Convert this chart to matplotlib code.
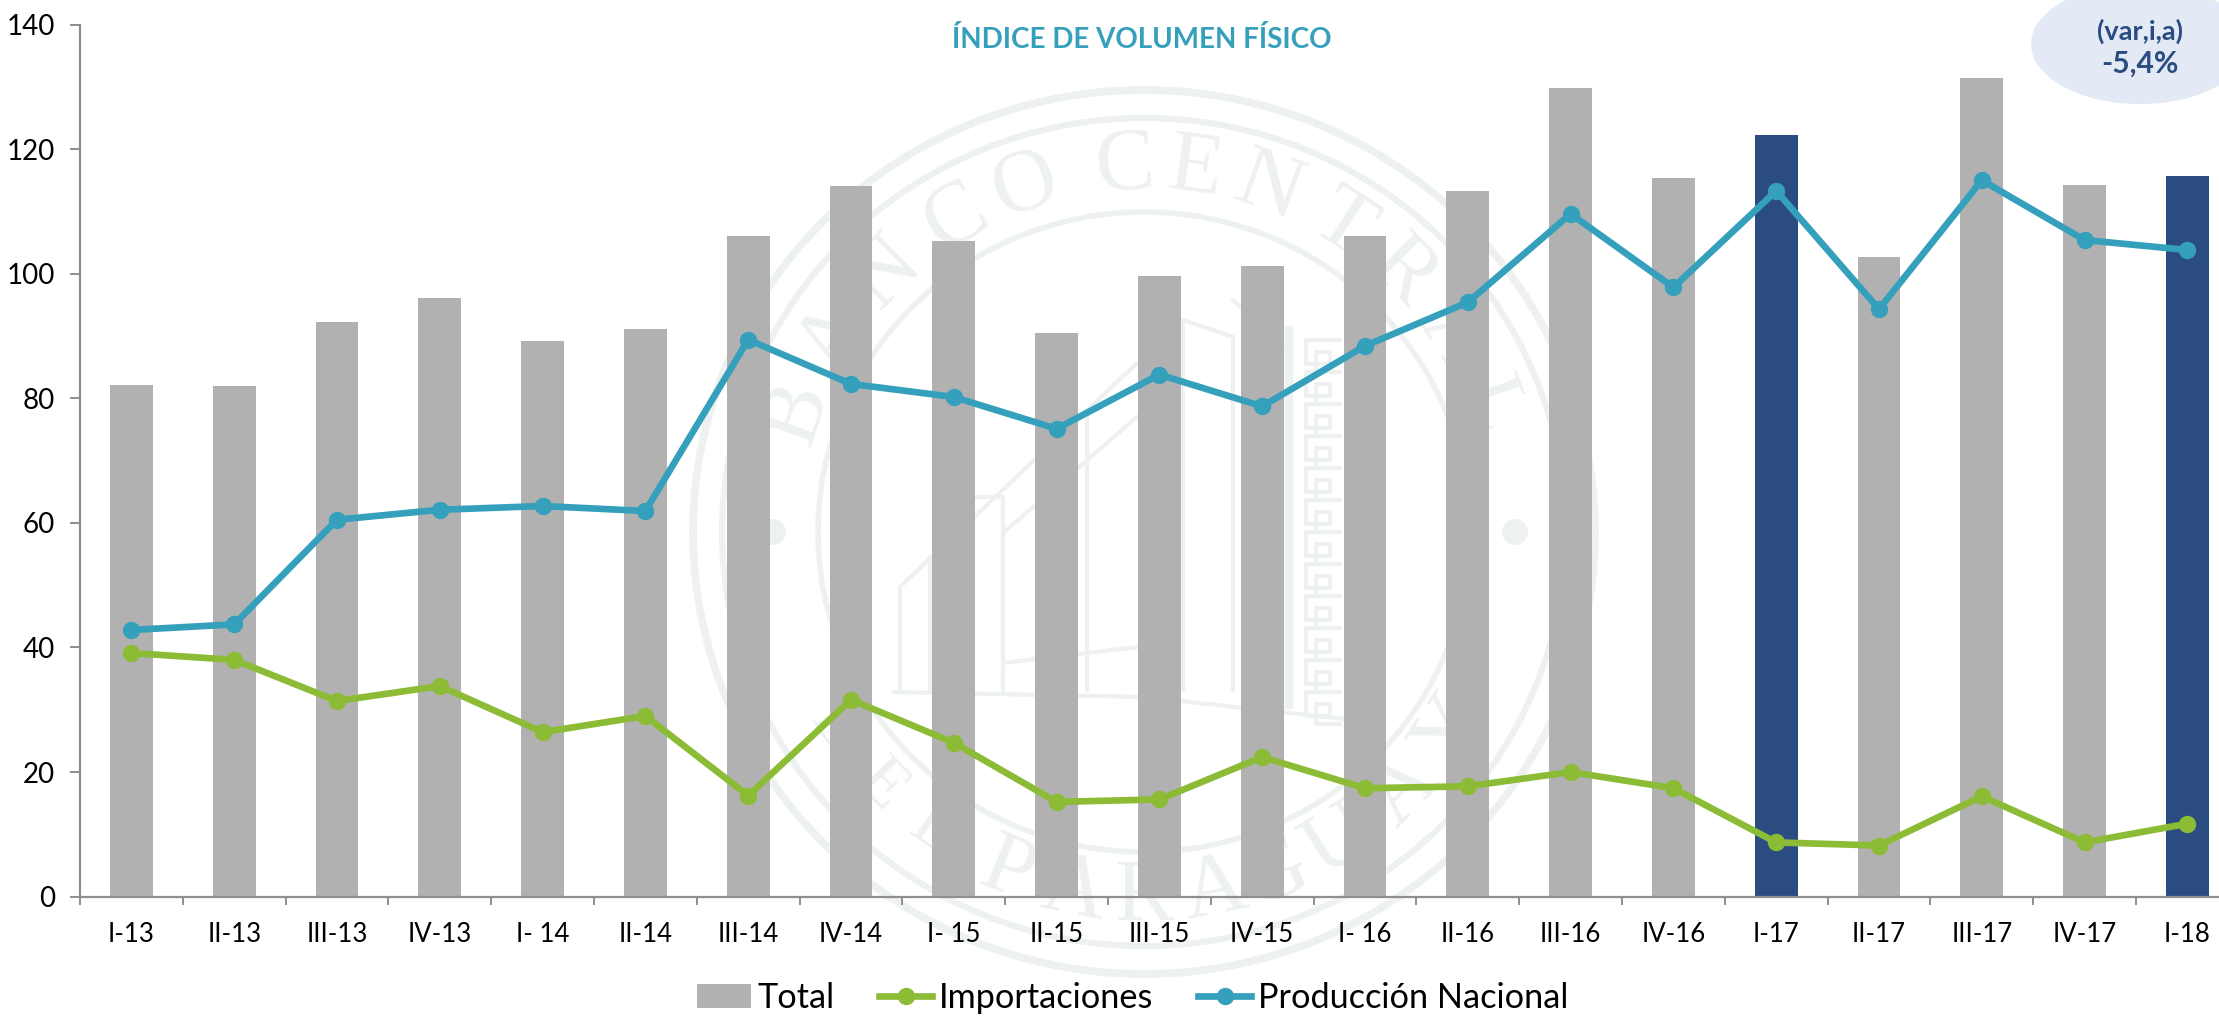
import numpy as np
from matplotlib import pyplot as plt
from matplotlib.patches import Ellipse

plt.rcParams['font.family'] = ['Lato', 'DejaVu Sans']

W, H = 2219, 1018

periodos = ["I-13", "II-13", "III-13", "IV-13", "I- 14", "II-14", "III-14", "IV-14",
            "I- 15", "II-15", "III-15", "IV-15", "I- 16", "II-16", "III-16", "IV-16",
            "I-17", "II-17", "III-17", "IV-17", "I-18"]
total = [82.2, 82.0, 92.2, 96.1, 89.2, 91.1, 106.0, 114.1, 105.2, 90.4, 99.6, 101.2,
         106.0, 113.2, 129.8, 115.4, 122.2, 102.7, 131.4, 114.3, 115.7]
importaciones = [39.1, 38.0, 31.4, 33.8, 26.4, 29.0, 16.2, 31.6, 24.7, 15.2, 15.6, 22.4,
                 17.4, 17.7, 20.0, 17.4, 8.7, 8.2, 16.1, 8.7, 11.7]
produccion = [42.8, 43.7, 60.5, 62.1, 62.7, 61.9, 89.4, 82.3, 80.2, 75.1, 83.8, 78.7,
              88.4, 95.4, 109.6, 97.8, 113.3, 94.3, 115.0, 105.4, 103.8]
destacados = ["I-17", "I-18"]

GRIS = "#B1B1B1"
AZUL = "#2B4C80"
TEAL = "#35A0BC"
VERDE = "#8CBB35"
EJE = "#8E8E8E"
SELLO = "#EDF1F0"

fig = plt.figure(figsize=(W / 100, H / 100), dpi=100, facecolor="white")

# sello de fondo, en coordenadas de pixel
bg = fig.add_axes([0, 0, 1, 1], zorder=0)
bg.set_xlim(0, W)
bg.set_ylim(H, 0)
bg.axis("off")
cx, cy = 1144, 532
for rx, ry, lw in [(451, 442, 5.5), (422, 414, 4.5), (326, 320, 4)]:
    bg.add_patch(Ellipse((cx, cy), 2 * rx, 2 * ry, fill=False, ec=SELLO, lw=lw))
for dx in (-371, 371):
    bg.add_patch(Ellipse((cx + dx, cy), 26, 26, fc=SELLO, ec="none"))

arriba = list(zip("BANCOCENTRAL", [161, 148, 135, 121, 109, 93, 82, 70, 57, 45, 32, 20]))
for letra, ang in arriba:
    a = np.radians(ang)
    bg.text(cx + 366 * np.cos(a), cy - 366 * np.sin(a), letra, family="Liberation Serif",
            fontsize=64, color=SELLO, ha="center", va="center", rotation=ang - 90)
abajo = list(zip("DELPARAGUAY", [213, 224, 235, 248, 259, 270, 281, 291, 302, 315, 327]))
for i, (letra, ang) in enumerate(abajo):
    a = np.radians(ang)
    bg.text(cx + 366 * np.cos(a), cy - 366 * np.sin(a), letra, family="Liberation Serif",
            fontsize=50 if i < 3 else 64, color=SELLO, ha="center", va="center", rotation=ang + 90)

# edificio del sello
edificio = [
    ([900, 900, 1137], [690, 587, 363]),
    ([930, 930], [690, 557]),
    ([976, 1003, 1003, 1137], [497, 497, 533, 417]),
    ([1003, 1003], [533, 690]),
    ([1087, 1087], [417, 690]),
    ([1003, 1137], [663, 647]),
    ([1183, 1183, 1233, 1233], [690, 320, 337, 690]),
    ([1233, 1283], [300, 345]),
    ([894, 1144, 1354], [692, 697, 720]),
]
for xs, ys in edificio:
    bg.plot(xs, ys, color=SELLO, lw=3, solid_capstyle="round")

# banda de grecas
greca_x, greca_y = [], []
for y0 in range(340, 700, 32):
    greca_x += [1340, 1306, 1306, 1330, 1330, 1316, 1316, 1340]
    greca_y += [y0, y0, y0 + 24, y0 + 24, y0 + 12, y0 + 12, y0 + 32, y0 + 32]
bg.plot(greca_x, greca_y, color=SELLO, lw=3)
bg.plot([1289, 1289], [330, 705], color=SELLO, lw=6)

# grafico principal
izq, der, arr, aba = 80, W, 24.5, 896.6
ancho_cat = 102.8
ax = fig.add_axes([izq / W, 1 - aba / H, (der - izq) / W, (aba - arr) / H], zorder=1)
ax.patch.set_alpha(0)

x = np.arange(len(periodos))
colores = [AZUL if p in destacados else GRIS for p in periodos]
barras = ax.bar(x, total, width=0.418, color=colores, label="Total")
linea_imp, = ax.plot(x, importaciones, color=VERDE, lw=4.8, marker="o", ms=11.5, label="Importaciones")
linea_prod, = ax.plot(x, produccion, color=TEAL, lw=4.8, marker="o", ms=11.5, label="Producción Nacional")

ax.set_xlim(-0.5, (der - izq) / ancho_cat - 0.5)
ax.set_ylim(0, 140)
ax.set_yticks(range(0, 141, 20))
ax.set_xticks(x)
ax.set_xticklabels(periodos)
ax.set_xticks(x - 0.5, minor=True)
ax.tick_params(axis="x", which="major", length=0, pad=18, labelsize=18.5)
ax.tick_params(axis="x", which="minor", length=6, width=1.4, color=EJE)
ax.tick_params(axis="y", length=7, width=1.4, color=EJE, pad=11, labelsize=20)
for s in ("top", "right"):
    ax.spines[s].set_visible(False)
for s in ("left", "bottom"):
    ax.spines[s].set_color(EJE)
    ax.spines[s].set_linewidth(1.6)

fig.legend([barras, linea_imp, linea_prod], ["Total", "Importaciones", "Producción Nacional"],
           loc="center", ncol=3, bbox_to_anchor=(1133 / W, 1 - 998 / H), frameon=False,
           fontsize=24.7, handlelength=1.55, handletextpad=0.2, columnspacing=1.3)

# titulo y globo
top = fig.add_axes([0, 0, 1, 1], zorder=2)
top.set_xlim(0, W)
top.set_ylim(H, 0)
top.axis("off")
top.text(1142, 39, "ÍNDICE DE VOLUMEN FÍSICO", color=TEAL, fontsize=20, fontweight="bold",
         ha="center", va="center")
top.add_patch(Ellipse((2140, 44), 218, 120, fc="#E3E9F5", ec="none"))
top.text(2140, 31, "(var,i,a)", color=AZUL, fontsize=19.5, fontweight="bold", ha="center", va="center")
top.text(2140, 64, "-5,4%", color=AZUL, fontsize=21.5, fontweight="bold", ha="center", va="center")

fig.savefig("out.png", dpi=100)
